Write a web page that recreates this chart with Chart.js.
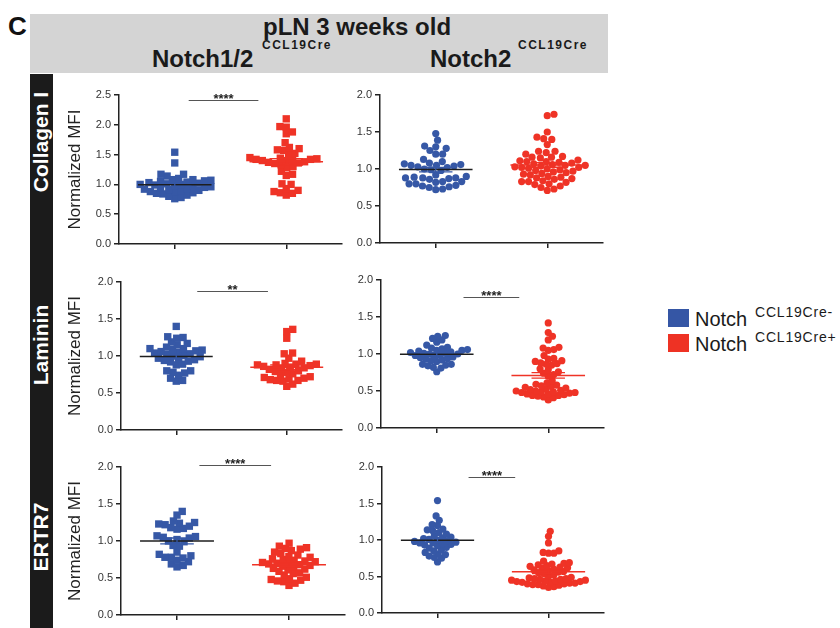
<!DOCTYPE html>
<html><head><meta charset="utf-8">
<script src="https://cdn.jsdelivr.net/npm/chart.js@4"></script>
<style>
body{margin:0;width:840px;height:628px;background:#fff;position:relative;overflow:hidden;font-family:"Liberation Sans",Arial,Helvetica,sans-serif;}
.abs{position:absolute;white-space:nowrap;line-height:1;}
canvas{position:absolute;}
.rot{position:absolute;width:200px;height:22px;line-height:22px;text-align:center;color:#fff;font-weight:bold;font-size:21px;transform:rotate(-90deg);transform-origin:50% 50%;}
</style></head><body>
<div class="abs" style="left:8px;top:13px;font-size:26px;font-weight:bold;color:#111">C</div>
<div class="abs" style="left:30px;top:14px;width:578px;height:59px;background:#d4d4d4;"></div>
<div class="abs" style="left:263px;top:15px;font-size:24px;font-weight:bold;color:#1a1a1a">pLN 3 weeks old</div>
<div class="abs" style="left:152px;top:47px;font-size:24px;font-weight:bold;color:#1a1a1a">Notch1/2</div>
<div class="abs" style="left:262px;top:39px;font-size:12px;font-weight:bold;color:#1a1a1a;letter-spacing:1.5px">CCL19Cre</div>
<div class="abs" style="left:430px;top:47px;font-size:24px;font-weight:bold;color:#1a1a1a">Notch2</div>
<div class="abs" style="left:518px;top:39px;font-size:12px;font-weight:bold;color:#1a1a1a;letter-spacing:1.5px">CCL19Cre</div>

<div class="abs" style="left:30px;top:74px;width:23px;height:554px;background:#1b1b1b;"></div>
<div class="rot" style="left:-59px;top:131px;">Collagen I</div>
<div class="rot" style="left:-59px;top:334px;">Laminin</div>
<div class="rot" style="left:-59px;top:526px;">ERTR7</div>

<div class="abs" style="left:668px;top:309px;width:21px;height:18px;background:#3556a5;"></div>
<div class="abs" style="left:695px;top:309px;font-size:20px;color:#1a1a1a">Notch</div>
<div class="abs" style="left:755px;top:305px;font-size:14px;color:#1a1a1a;letter-spacing:0.8px">CCL19Cre-</div>
<div class="abs" style="left:668px;top:334px;width:21px;height:18px;background:#ee3224;"></div>
<div class="abs" style="left:695px;top:334px;font-size:20px;color:#1a1a1a">Notch</div>
<div class="abs" style="left:755px;top:330px;font-size:14px;color:#1a1a1a;letter-spacing:0.8px">CCL19Cre+</div>

<script>
// ---- data ----
const categories = ['Notch CCL19Cre-', 'Notch CCL19Cre+'];
const yTickLabels25 = ['0.0','0.5','1.0','1.5','2.0','2.5'];
const yTickLabels20 = ['0.0','0.5','1.0','1.5','2.0'];

const collagenN12Neg = [1.54,1.36,1.17,1.17,1.14,1.10,1.08,1.08,1.07,1.06,1.05,1.04,1.03,1.02,1.01,1.00,1.00,0.99,0.98,0.97,0.96,0.95,0.94,0.93,0.92,0.91,0.90,0.89,0.88,0.87,0.86,0.85,0.84,0.82,0.80,0.78,0.76];
const collagenN12Pos = [2.10,1.97,1.96,1.88,1.85,1.70,1.62,1.60,1.58,1.57,1.52,1.50,1.45,1.44,1.43,1.42,1.42,1.41,1.40,1.40,1.38,1.37,1.36,1.35,1.33,1.30,1.28,1.22,1.17,1.15,1.01,1.00,0.93,0.90,0.88,0.86,0.85,0.82];
const collagenN2Neg = [1.48,1.39,1.31,1.30,1.28,1.25,1.20,1.20,1.13,1.10,1.08,1.07,1.06,1.05,1.05,1.04,1.03,1.02,1.00,0.99,0.98,0.92,0.90,0.89,0.88,0.88,0.88,0.87,0.86,0.83,0.83,0.82,0.80,0.80,0.78,0.77,0.76,0.75,0.73,0.72];
const collagenN2Pos = [1.74,1.72,1.50,1.43,1.41,1.40,1.33,1.24,1.24,1.22,1.20,1.17,1.16,1.16,1.15,1.12,1.11,1.10,1.10,1.09,1.08,1.07,1.06,1.05,1.05,1.04,1.03,1.02,1.02,1.01,1.00,0.99,0.98,0.97,0.96,0.95,0.94,0.93,0.92,0.90,0.89,0.88,0.87,0.86,0.84,0.83,0.83,0.82,0.80,0.79,0.77,0.75,0.73,0.71];
const lamininN12Neg = [1.40,1.26,1.25,1.24,1.19,1.17,1.15,1.12,1.10,1.10,1.09,1.08,1.07,1.06,1.05,1.04,1.03,1.02,1.01,1.00,0.99,0.97,0.96,0.95,0.94,0.93,0.92,0.89,0.88,0.80,0.80,0.78,0.77,0.74,0.70,0.67,0.66];
const lamininN12Pos = [1.36,1.33,1.24,1.04,1.03,0.97,0.93,0.90,0.89,0.89,0.88,0.88,0.87,0.86,0.85,0.84,0.83,0.82,0.80,0.79,0.78,0.76,0.74,0.72,0.71,0.70,0.69,0.68,0.67,0.67,0.66,0.62,0.59];
const lamininN2Neg = [1.25,1.24,1.21,1.19,1.16,1.12,1.09,1.08,1.07,1.06,1.05,1.05,1.04,1.03,1.02,1.01,1.01,1.00,1.00,0.99,0.98,0.97,0.96,0.95,0.94,0.93,0.92,0.91,0.90,0.86,0.86,0.85,0.84,0.82,0.81,0.76];
const lamininN2Pos = [1.42,1.29,1.24,1.19,1.09,1.08,1.06,1.05,0.98,0.94,0.93,0.91,0.90,0.88,0.87,0.86,0.85,0.80,0.79,0.76,0.74,0.72,0.70,0.64,0.61,0.59,0.58,0.57,0.56,0.55,0.54,0.53,0.52,0.51,0.50,0.50,0.49,0.49,0.48,0.48,0.47,0.46,0.46,0.45,0.44,0.44,0.43,0.42,0.41,0.38];
const ertr7N12Neg = [1.40,1.35,1.27,1.25,1.24,1.23,1.22,1.20,1.18,1.17,1.16,1.07,1.06,1.05,1.04,1.02,1.00,0.99,0.94,0.93,0.85,0.82,0.80,0.78,0.78,0.77,0.74,0.72,0.69,0.67,0.65];
const ertr7N12Pos = [0.97,0.93,0.91,0.90,0.89,0.87,0.85,0.83,0.81,0.79,0.78,0.76,0.75,0.74,0.73,0.72,0.71,0.70,0.70,0.69,0.68,0.67,0.66,0.65,0.63,0.62,0.61,0.59,0.57,0.56,0.54,0.51,0.49,0.48,0.47,0.46,0.45,0.43,0.40];
const ertr7N2Neg = [1.54,1.33,1.27,1.21,1.20,1.15,1.14,1.13,1.10,1.08,1.06,1.04,1.03,1.02,1.01,1.00,0.99,0.98,0.97,0.96,0.96,0.95,0.94,0.93,0.92,0.90,0.89,0.87,0.85,0.83,0.81,0.80,0.78,0.76,0.75,0.70];
const ertr7N2Pos = [1.12,1.05,0.96,0.85,0.83,0.82,0.82,0.71,0.69,0.68,0.67,0.66,0.65,0.64,0.63,0.62,0.61,0.60,0.59,0.58,0.57,0.56,0.55,0.54,0.52,0.50,0.49,0.48,0.47,0.47,0.46,0.46,0.45,0.45,0.44,0.44,0.43,0.43,0.42,0.42,0.41,0.41,0.40,0.40,0.39,0.39,0.38,0.37,0.36,0.35];

const sigText = ['****','**','****','****','****'];

// ---- layout / style ----
const BLUE = '#3658a6', RED = '#ef3326';
Chart.defaults.font.family = "'Liberation Sans', Arial, Helvetica, sans-serif";

const panels = [
  {neg:collagenN12Neg, pos:collagenN12Pos, shape:'rect',   d:6.4, l:119, t:95,  r:342, b:244, ticks:yTickLabels25, title:true,  sig:{x1:1.125,x2:1.75,y:2.42,text:sigText[0]}},
  {neg:collagenN2Neg,  pos:collagenN2Pos,  shape:'circle', d:6.9, l:380, t:95,  r:603, b:243, ticks:yTickLabels20, title:false, sig:null},
  {neg:lamininN12Neg,  pos:lamininN12Pos,  shape:'rect',   d:6.4, l:121, t:282, r:342, b:430, ticks:yTickLabels20, title:true,  sig:{x1:1.19,x2:1.83,y:1.88,text:sigText[1]}},
  {neg:lamininN2Neg,   pos:lamininN2Pos,   shape:'circle', d:5.6, l:381, t:280, r:604, b:428, ticks:yTickLabels20, title:false, sig:{x1:1.24,x2:1.74,y:1.77,text:sigText[2]}},
  {neg:ertr7N12Neg,    pos:ertr7N12Pos,    shape:'rect',   d:6.4, l:121, t:467, r:345, b:615, ticks:yTickLabels20, title:true,  sig:{x1:1.20,x2:1.84,y:2.03,text:sigText[3]}},
  {neg:ertr7N2Neg,     pos:ertr7N2Pos,     shape:'circle', d:5.4, l:382, t:467, r:604, b:613, ticks:yTickLabels20, title:false, sig:{x1:1.28,x2:1.70,y:1.86,text:sigText[4]}},
];

// collision-based beeswarm layout (pixel space, ascending order) -> x offsets in data units
function swarm(values, center, xPx, yPx, d) {
  const placed = [], out = [];
  values.slice().sort((a, b) => a - b).forEach(v => {
    const py = v * yPx;
    const cands = [0];
    placed.forEach(q => {
      const dy = Math.abs(q.py - py);
      if (dy < d) { const dx = Math.sqrt(d * d - dy * dy); cands.push(q.px + dx, q.px - dx); }
    });
    cands.sort((a, b) => Math.abs(a) - Math.abs(b));
    let best = 0;
    for (const c of cands) {
      if (placed.every(q => (q.px - c) ** 2 + (q.py - py) ** 2 >= d * d - 0.01)) { best = c; break; }
    }
    placed.push({px: best, py});
    out.push({x: center + best / xPx, y: v});
  });
  return out;
}
function stats(a) {
  const n = a.length, m = a.reduce((s, v) => s + v, 0) / n;
  const sd = Math.sqrt(a.reduce((s, v) => s + (v - m) * (v - m), 0) / (n - 1));
  return {mean: m, sem: sd / Math.sqrt(n)};
}

panels.forEach(p => {
  const ymax = parseFloat(p.ticks[p.ticks.length - 1]);
  const canvasLeft = p.title ? 65 : p.l - 40;
  const axisW = p.l - canvasLeft;
  const padTop = 22, axisH = 8, padRight = 6, padBottom = 2;
  const W = axisW + (p.r - p.l) + padRight;
  const H = padTop + (p.b - p.t) + axisH + padBottom;
  const cv = document.createElement('canvas');
  cv.width = W; cv.height = H;
  cv.style.left = canvasLeft + 'px'; cv.style.top = (p.t - padTop) + 'px';
  cv.style.width = W + 'px'; cv.style.height = H + 'px';
  document.body.appendChild(cv);

  const xPx = (p.r - p.l) / 2.0, yPx = (p.b - p.t) / ymax;
  const isRect = p.shape === 'rect';
  const groups = [
    {vals: p.neg, c: 1, color: BLUE, line: '#1e1e1e'},
    {vals: p.pos, c: 2, color: RED, line: RED},
  ];
  const datasets = groups.map((g, i) => ({
    label: categories[i],
    data: swarm(g.vals, g.c, xPx, yPx, p.d),
    pointStyle: p.shape,
    pointRadius: isRect ? 5.2 : 3.6,
    pointHoverRadius: isRect ? 5.2 : 3.6,
    backgroundColor: g.color,
    borderWidth: 0,
    showLine: false
  }));

  const overlay = {
    id: 'overlay',
    afterDatasetsDraw(chart) {
      const {ctx, scales: {x, y}} = chart;
      ctx.save();
      groups.forEach(g => {
        const s = stats(g.vals);
        ctx.strokeStyle = g.line; ctx.lineWidth = 1.5;
        ctx.beginPath();
        ctx.moveTo(x.getPixelForValue(g.c - 0.33), y.getPixelForValue(s.mean));
        ctx.lineTo(x.getPixelForValue(g.c + 0.33), y.getPixelForValue(s.mean));
        ctx.stroke();
        ctx.strokeStyle = g.color; ctx.lineWidth = 1.3;
        ctx.beginPath();
        const yt = y.getPixelForValue(s.mean + s.sem), yb = y.getPixelForValue(s.mean - s.sem);
        const xc = x.getPixelForValue(g.c);
        ctx.moveTo(xc, yt); ctx.lineTo(xc, yb);
        ctx.moveTo(x.getPixelForValue(g.c - 0.15), yt); ctx.lineTo(x.getPixelForValue(g.c + 0.15), yt);
        ctx.moveTo(x.getPixelForValue(g.c - 0.15), yb); ctx.lineTo(x.getPixelForValue(g.c + 0.15), yb);
        ctx.stroke();
      });
      if (p.sig) {
        const yy = Math.round(y.getPixelForValue(p.sig.y)) + 0.5;
        ctx.strokeStyle = '#555'; ctx.lineWidth = 1;
        ctx.beginPath();
        ctx.moveTo(x.getPixelForValue(p.sig.x1), yy);
        ctx.lineTo(x.getPixelForValue(p.sig.x2), yy);
        ctx.stroke();
        ctx.fillStyle = '#222';
        ctx.font = "bold 13px 'Liberation Sans', Arial, sans-serif";
        ctx.textAlign = 'center'; ctx.textBaseline = 'alphabetic';
        ctx.fillText(p.sig.text, x.getPixelForValue((p.sig.x1 + p.sig.x2) / 2), yy + 2);
      }
      ctx.restore();
    }
  };

  new Chart(cv, {
    type: 'scatter',
    data: {datasets},
    options: {
      responsive: false, animation: false, devicePixelRatio: 1,
      layout: {padding: {top: padTop, right: padRight, bottom: padBottom, left: 0}},
      plugins: {legend: {display: false}, tooltip: {enabled: false}},
      scales: {
        x: {
          type: 'linear', min: 0.5, max: 2.5,
          afterBuildTicks: ax => { ax.ticks = [{value: 1}, {value: 2}]; },
          afterFit: ax => { ax.height = axisH; },
          ticks: {callback: () => '', padding: 0},
          grid: {drawOnChartArea: false, drawTicks: true, tickLength: 5, color: '#222', lineWidth: 1.5},
          border: {display: true, color: '#222', width: 1.5}
        },
        y: {
          type: 'linear', min: 0, max: ymax,
          afterBuildTicks: ax => { ax.ticks = p.ticks.map(t => ({value: parseFloat(t)})); },
          afterFit: ax => { ax.width = axisW; },
          ticks: {callback: (v, i) => p.ticks[i], color: '#333', font: {size: 11}, padding: 3},
          grid: {drawOnChartArea: false, drawTicks: true, tickLength: 5, color: '#222', lineWidth: 1.5},
          border: {display: true, color: '#222', width: 1.5},
          title: {display: p.title, text: 'Normalized MFI', color: '#222', font: {size: 17}, padding: {top: 0, bottom: 0}}
        }
      }
    },
    plugins: [overlay]
  });
});
</script>
</body></html>
